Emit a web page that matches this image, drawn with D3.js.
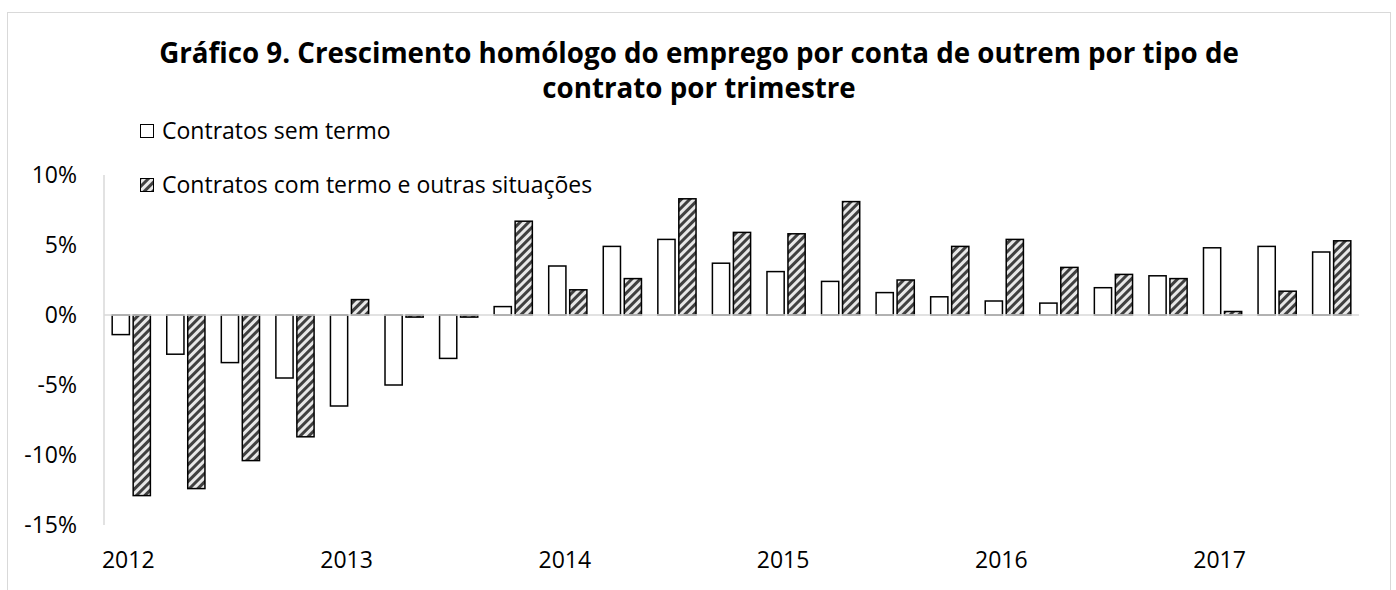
<!DOCTYPE html>
<html>
<head>
<meta charset="utf-8">
<script src="https://cdn.jsdelivr.net/npm/d3@7"></script>
<style>
  body { margin: 0; background: #fff; }
  text { font-family: "Open Sans", Lato, sans-serif; fill: #000; }
</style>
</head>
<body>
<svg id="chart"></svg>
<script>
// quarters 2012Q1 .. 2017Q3
var quarters = ["2012T1","2012T2","2012T3","2012T4","2013T1","2013T2","2013T3","2013T4",
    "2014T1","2014T2","2014T3","2014T4","2015T1","2015T2","2015T3","2015T4",
    "2016T1","2016T2","2016T3","2016T4","2017T1","2017T2","2017T3"];
var yearLabels = ["2012","","","","2013","","","","2014","","","","2015","","","",
    "2016","","","","2017","",""];
var semTermo = [-1.4,-2.8,-3.4,-4.5,-6.5,-5.0,-3.1,0.6,3.5,4.9,5.4,3.7,3.1,2.4,1.6,1.3,
    1.0,0.85,1.95,2.8,4.8,4.9,4.5];
var comTermo = [-12.9,-12.4,-10.4,-8.7,1.1,-0.15,-0.15,6.7,1.8,2.6,8.3,5.9,5.8,8.1,2.5,4.9,
    5.4,3.4,2.9,2.6,0.25,1.7,5.3];
var seriesNames = ["Contratos sem termo","Contratos com termo e outras situações"];
var titleLines = ["Gráfico 9. Crescimento homólogo do emprego por conta de outrem por tipo de",
    "contrato por trimestre"];
var yTicks = [-15,-10,-5,0,5,10];

var screen = {width:1396, height:590};
var plot = {left:104, right:1359, top:175, bottom:525};

var svg = d3.select("#chart")
    .attr("width",screen.width)
    .attr("height",screen.height);

// hatch pattern
var defs = svg.append("defs");
var pat = defs.append("pattern")
    .attr("id","hatch")
    .attr("patternUnits","userSpaceOnUse")
    .attr("width",6)
    .attr("height",6)
    .attr("patternTransform","rotate(45)");
pat.append("rect").attr("width",6).attr("height",6).attr("fill","#e8e8e8");
pat.append("rect").attr("width",3).attr("height",6).attr("fill","#404040");

// outer frame
svg.append("rect")
    .attr("x",7.5).attr("y",12.5)
    .attr("width",1383).attr("height",600)
    .attr("fill","none")
    .attr("stroke","#d9d9d9")
    .attr("stroke-width",1);

var xScale = d3.scaleBand()
    .domain(quarters)
    .range([plot.left,plot.right])
    .paddingInner(0.3)
    .paddingOuter(0.15);
var xInner = d3.scaleBand()
    .domain([0,1])
    .range([0,xScale.bandwidth()])
    .paddingInner(0.18);
var yScale = d3.scaleLinear()
    .domain([-15,10])
    .range([plot.bottom,plot.top]);

// y axis line
svg.append("line")
    .attr("x1",plot.left).attr("x2",plot.left)
    .attr("y1",plot.top).attr("y2",plot.bottom)
    .attr("stroke","#d9d9d9").attr("stroke-width",1.5);

// y tick labels
svg.selectAll(".ytick")
    .data(yTicks)
    .enter()
    .append("text")
    .attr("class","ytick")
    .attr("x",77)
    .attr("y",function(d){ return yScale(d); })
    .attr("dy","0.35em")
    .attr("text-anchor","end")
    .style("font-size","23px")
    .text(function(d){ return d + "%"; });

// bars
var rows = quarters.map(function(q,i){
    return [{q:q,s:0,v:semTermo[i]},{q:q,s:1,v:comTermo[i]}];
});
var groups = svg.selectAll(".grp")
    .data(rows)
    .enter()
    .append("g")
    .attr("transform",function(d){ return "translate(" + xScale(d[0].q) + ",0)"; });
groups.selectAll("rect")
    .data(function(d){ return d; })
    .enter()
    .append("rect")
    .attr("x",function(d){ return xInner(d.s); })
    .attr("width",xInner.bandwidth())
    .attr("y",function(d){ return yScale(Math.max(0,d.v)); })
    .attr("height",function(d){ return Math.abs(yScale(d.v)-yScale(0)); })
    .attr("fill",function(d){ return d.s==0 ? "#fff" : "url(#hatch)"; })
    .attr("stroke","#000")
    .attr("stroke-width",1.5);

// zero line
svg.append("line")
    .attr("x1",plot.left).attr("x2",plot.right)
    .attr("y1",yScale(0)).attr("y2",yScale(0))
    .attr("stroke","#d9d9d9").attr("stroke-width",1.5);

// year labels
svg.selectAll(".xlab")
    .data(quarters)
    .enter()
    .append("text")
    .attr("x",function(d){ return xScale(d) + xScale.bandwidth()/2 - 3; })
    .attr("y",560)
    .attr("dy","0.35em")
    .attr("text-anchor","middle")
    .style("font-size","23px")
    .text(function(d,i){ return yearLabels[i]; });

// title - font size fitted so line 1 is about 1080px wide
var title = svg.append("text")
    .attr("text-anchor","middle")
    .style("font-size","26px")
    .style("font-weight","bold");
var titleY = [63,98];
title.selectAll("tspan")
    .data(titleLines)
    .enter()
    .append("tspan")
    .attr("x",699)
    .attr("y",function(d,i){ return titleY[i]; })
    .text(function(d){ return d; });
var w = title.select("tspan").node().getComputedTextLength();
if (w > 0) title.style("font-size",(26*1080/w) + "px");

// legend
var legendY = [131,185];
var leg = svg.selectAll(".leg")
    .data(seriesNames)
    .enter()
    .append("g")
    .attr("transform",function(d,i){ return "translate(140," + legendY[i] + ")"; });
leg.append("rect")
    .attr("x",0.5).attr("y",-6.5)
    .attr("width",13).attr("height",13)
    .attr("fill",function(d,i){ return i==0 ? "#fff" : "url(#hatch)"; })
    .attr("stroke","#000")
    .attr("stroke-width",1);
leg.append("text")
    .attr("x",22)
    .attr("y",0)
    .attr("dy","0.35em")
    .style("font-size","23px")
    .text(function(d){ return d; });
</script>
</body>
</html>
